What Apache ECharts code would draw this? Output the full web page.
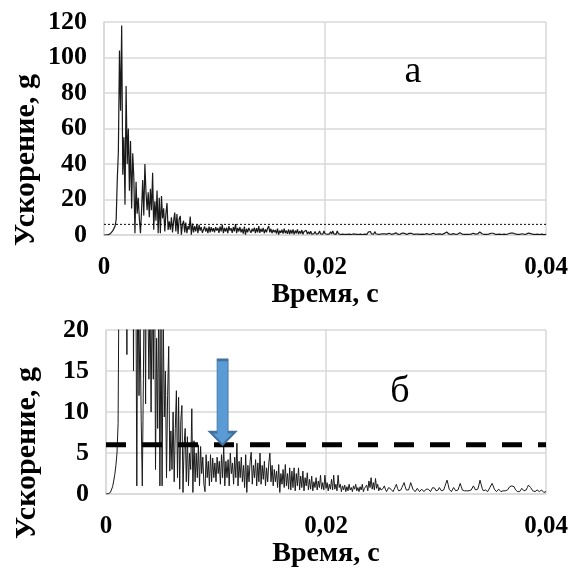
<!DOCTYPE html>
<html><head><meta charset="utf-8">
<script src="https://cdn.jsdelivr.net/npm/echarts@6/dist/echarts.min.js"></script>
<style>html,body{margin:0;padding:0;background:#fff;}#c{width:571px;height:569px;}</style>
</head><body><div id="c"></div>
<script>
// Sampling step of the acceleration record, seconds
const sampleStep = 0.0001;
// Acceleration, g (one value per sample, 0 ... 0.04 s)
const accel = [
  0, 0.02, 0.05, 0.1, 0.2, 0.4, 0.9, 1.6, 2.4, 3.5,
  5, 8.6, 31, 47, 104, 70, 118, 34, 55, 17,
  84, 40, 60, 25, 53, 15, 46, 32, 1, 30,
  12, 21, 9, 1, 14, 31, 11, 40, 24, 14,
  24, 10, 26, 14, 35, 3, 19, 8, 25, 1,
  21, 1, 22, 9.4, 15, 2, 12, 18, 2.8, 7.7,
  3, 10, 1.5, 8, 12.6, 2, 11.8, 0.6, 9, 10.8,
  0.2, 6, 8, 1.5, 7, 1, 5, 3, 10.4, 0.2,
  6.5, 1.5, 5, 2, 6, 1, 5.8, 2.5, 4.5, 1.2,
  0.3, 4.8, 2, 4, 1, 4.8, 1.5, 4.4, 2, 3.8,
  1.5, 4.5, 2.5, 4, 1.2, 4.8, 2, 5.9, 1, 4,
  2, 4.2, 1, 5, 2.5, 3.8, 1.2, 4.5, 2, 6.2,
  1, 4, 2, 4.5, 1.5, 3.5, 0.8, 4.8, 0.2, 3.5,
  1.5, 4, 5.1, 1.2, 3.5, 2, 4.2, 1, 3.8, 1.5,
  5, 1.2, 3.5, 1.8, 4, 1, 3.2, 1.5, 3.8, 5,
  1.5, 3.5, 1, 3, 1.5, 2.8, 0.8, 3.6, 0.2, 2.5,
  1.2, 3, 0.8, 3.6, 1, 2.5, 0.6, 3.2, 0.5, 2.8,
  0.8, 3.2, 0.4, 2.5, 1, 3.2, 0.5, 2.2, 0.8, 2.8,
  0.4, 2, 1, 2.6, 0.5, 1.8, 0.6, 2.2, 0.4, 1.5,
  0.8, 2, 0.5, 1.6, 0.8, 2.3, 0.6, 1.4, 0.5, 2.3,
  0.7, 1.4, 0.4, 1.2, 0.6, 1.8, 0.5, 2.3, 0.6, 1.2,
  0.4, 2.3, 0.8, 1.2, 0.3, 1.0, 0.5, 1.1, 0.3, 0.9,
  0.4, 1.2, 0.5, 0.8, 0.3, 1.0, 0.6, 1.2, 0.4, 0.8,
  0.3, 0.9, 0.5, 1.2, 0.3, 0.7, 0.5, 1.1, 0.4, 1.6,
  0.8, 2.0, 0.6, 1.4, 0.5, 1.9, 0.7, 1.2, 0.4, 0.8,
  0.5, 0.4, 0.7, 1.0, 0.6, 0.3, 0.5, 0.8, 1.0, 0.6,
  0.4, 0.3, 0.6, 0.9, 1.2, 0.7, 0.4, 0.3, 0.5, 0.8,
  1.1, 1.4, 0.9, 0.5, 0.3, 0.5, 0.9, 1.4, 1.0, 0.6,
  0.4, 0.3, 0.5, 0.7, 0.5, 0.3, 0.4, 0.6, 0.5, 0.3,
  0.4, 0.6, 0.8, 0.6, 0.4, 0.3, 0.5, 0.8, 1.0, 0.7,
  0.4, 0.3, 0.5, 0.8, 0.6, 0.4, 0.3, 0.5, 0.9, 1.3,
  1.7, 1.2, 0.6, 0.4, 0.3, 0.5, 0.8, 0.6, 0.4, 0.3,
  0.5, 0.9, 1.3, 0.9, 0.5, 0.3, 0.4, 0.6, 0.4, 0.3,
  0.4, 0.3, 0.5, 0.7, 1.0, 0.8, 0.5, 0.4, 0.6, 1.1,
  1.7, 1.2, 0.7, 0.4, 0.3, 0.5, 0.4, 0.3, 0.5, 0.8,
  1.0, 1.3, 1.0, 0.6, 0.4, 0.3, 0.4, 0.6, 0.5, 0.3,
  0.3, 0.4, 0.5, 0.4, 0.3, 0.5, 0.7, 0.9, 1.1, 1.0,
  1.1, 0.9, 0.6, 0.4, 0.3, 0.4, 0.3, 0.5, 0.7, 0.6,
  0.4, 0.3, 0.5, 0.8, 1.1, 1.0, 0.8, 0.6, 0.4, 0.3,
  0.3, 0.4, 0.5, 0.4, 0.3, 0.4, 0.5, 0.3, 0.2, 0.3,
  0.3
];
// Axis ranges / ticks
const xRange = [0, 0.04];
const xStep = 0.02;
const topYRange = [0, 120];
const topYStep = 20;
const bottomYRange = [0, 20];
const bottomYStep = 5;
// Threshold level, g, and time pointed to by the arrow, s
const threshold = 6;
const arrowTime = 0.0106;
// Texts
const panelLabels = ['а', 'б'];
const xTitle = 'Время, с';
const yTitle = 'Ускорение, g';

const points = accel.map((v, i) => [Number((i * sampleStep).toFixed(5)), v]);
const thresholdLine = [[xRange[0], threshold], [xRange[1], threshold]];

const FONT = '"Liberation Serif", "Times New Roman", serif';
const gridColor = '#d9d9d9';

function xAxisCfg(gridIndex) {
  return {
    type: 'value', gridIndex, min: xRange[0], max: xRange[1], interval: xStep,
    axisLine: { show: true, lineStyle: { color: gridColor, width: 1.5 } },
    axisTick: { show: false },
    splitLine: { show: true, lineStyle: { color: gridColor, width: 1.5 } },
    axisLabel: {
      margin: 20, color: '#000', fontFamily: FONT, fontWeight: 'bold', fontSize: 25,
      formatter: v => v === 0 ? '0' : v.toFixed(2).replace('.', ','),
      showMinLabel: true, showMaxLabel: true
    },
    name: xTitle, nameLocation: 'middle', nameGap: 31,
    nameTextStyle: { color: '#000', fontFamily: FONT, fontWeight: 'bold', fontSize: 28 }
  };
}
function yAxisCfg(gridIndex, range, step) {
  return {
    type: 'value', gridIndex, min: range[0], max: range[1], interval: step,
    axisLine: { show: true, lineStyle: { color: gridColor, width: 1.5 } },
    axisTick: { show: false },
    splitLine: { show: true, lineStyle: { color: gridColor, width: 1.5 } },
    axisLabel: { margin: 17, color: '#000', fontFamily: FONT, fontWeight: 'bold', fontSize: 26 }
  };
}

const chart = echarts.init(document.getElementById('c'), null, { renderer: 'canvas' });
chart.setOption({
  animation: false,
  backgroundColor: '#fff',
  grid: [
    { left: 104, top: 22, width: 443, height: 213 },
    { left: 106, top: 330, width: 440, height: 167 }
  ],
  xAxis: [xAxisCfg(0), xAxisCfg(1)],
  yAxis: [yAxisCfg(0, topYRange, topYStep), yAxisCfg(1, bottomYRange, bottomYStep)],
  series: [
    {
      type: 'line', xAxisIndex: 0, yAxisIndex: 0, data: points,
      showSymbol: false, symbol: 'none', clip: true,
      lineStyle: { color: '#1a1a1a', width: 1.2 }
    },
    {
      type: 'line', xAxisIndex: 0, yAxisIndex: 0, data: thresholdLine,
      showSymbol: false, symbol: 'none', silent: true, z: 3,
      lineStyle: { color: '#000', width: 1, type: [2, 2] }
    },
    {
      type: 'line', xAxisIndex: 1, yAxisIndex: 1, data: points,
      showSymbol: false, symbol: 'none', clip: true,
      lineStyle: { color: '#1a1a1a', width: 1 }
    },
    {
      type: 'line', xAxisIndex: 1, yAxisIndex: 1, data: thresholdLine,
      showSymbol: false, symbol: 'none', silent: true, z: 3,
      lineStyle: { color: '#000', width: 5, type: [20, 16], cap: 'butt' },
      markPoint: {
        silent: true,
        symbol: 'path://M28,0 L72,0 L72,85 L100,85 L50,100 L0,85 L28,85 Z',
        symbolSize: [25, 85],
        symbolOffset: [0, '-50%'],
        label: { show: false },
        itemStyle: { color: '#5B9BD5', borderColor: '#41719C', borderWidth: 1.5 },
        data: [{ coord: [arrowTime, threshold] }]
      }
    }
  ],
  graphic: [
    { type: 'text', x: 26, y: 160, rotation: Math.PI / 2,
      style: { text: yTitle, font: 'bold 30px ' + FONT, fill: '#000', align: 'center', verticalAlign: 'middle' } },
    { type: 'text', x: 27, y: 453, rotation: Math.PI / 2,
      style: { text: yTitle, font: 'bold 30px ' + FONT, fill: '#000', align: 'center', verticalAlign: 'middle' } },
    { type: 'text', x: 413, y: 72,
      style: { text: panelLabels[0], font: '38px ' + FONT, fill: '#000', align: 'center', verticalAlign: 'middle' } },
    { type: 'text', x: 400, y: 392,
      style: { text: panelLabels[1], font: '38px ' + FONT, fill: '#000', align: 'center', verticalAlign: 'middle' } }
  ]
});
</script>
</body></html>
